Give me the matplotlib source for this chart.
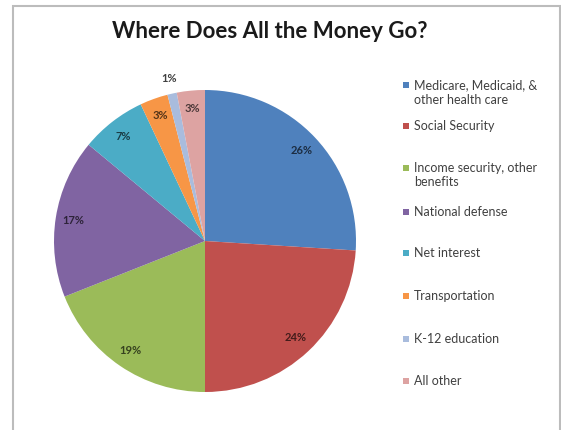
import numpy as np
import matplotlib.pyplot as plt
import matplotlib.colors as mcolors
from matplotlib.patches import Rectangle

# Chart data
labels = ['Medicare, Medicaid, &\nother health care', 'Social Security',
          'Income security, other\nbenefits', 'National defense',
          'Net interest', 'Transportation', 'K-12 education', 'All other']
shares = [26, 24, 19, 17, 7, 3, 1, 3]
colors = ['#4F81BD', '#C0504D', '#9BBB59', '#8064A2',
          '#4BACC6', '#F79646', '#A9BCDD', '#DDA3A2']

plt.rcParams['font.family'] = ['Lato', 'DejaVu Sans']

W, H = 561, 430
fig = plt.figure(figsize=(W / 100, H / 100), dpi=100)

# chart frame
fig.patches.append(Rectangle((13 / W, -0.05), (W - 13) / W - 0.001, 1.05 - 6 / H,
                             transform=fig.transFigure, fill=False,
                             edgecolor='#bcbcbc', linewidth=1.5))

fig.text(270 / W, 1 - 32 / H, 'Where Does All the Money Go?', ha='center',
         va='center', fontsize=16, fontweight='bold', color='#1a1a1a')

# pie
cx, cy, r = 205, 241, 151
ax = fig.add_axes([(cx - r) / W, (H - cy - r) / H, 2 * r / W, 2 * r / H])
wedges, texts, autotexts = ax.pie(
    shares, colors=colors, startangle=90, counterclock=False,
    autopct='%d%%', pctdistance=0.88, radius=1,
    wedgeprops=dict(linewidth=0),
    textprops=dict(fontsize=8, fontweight='bold'))
ax.set_xlim(-1, 1)
ax.set_ylim(-1, 1)
ax.axis('off')

for w, t, c in zip(wedges, autotexts, colors):
    dark = np.array(mcolors.to_rgb(c)) * 0.35
    t.set_color(dark)
    if w.theta2 - w.theta1 < 5:
        mid = np.deg2rad((w.theta1 + w.theta2) / 2)
        t.set_position((1.1 * np.cos(mid), 1.1 * np.sin(mid)))
        t.set_color('#404040')

# legend drawn by hand to mimic Excel spacing
legend_y = [85, 126, 168, 212, 253, 296, 339, 381]
for lab, c, y in zip(labels, colors, legend_y):
    fig.patches.append(Rectangle(((406 - 3) / W, 1 - (y + 3) / H), 6 / W, 6 / H,
                                 transform=fig.transFigure, facecolor=c,
                                 edgecolor='none'))
    fig.text(414 / W, 1 - (y - 6) / H, lab, ha='left', va='top', fontsize=9,
             color='#404040', linespacing=1.25)

fig.savefig('out.png', dpi=100)
